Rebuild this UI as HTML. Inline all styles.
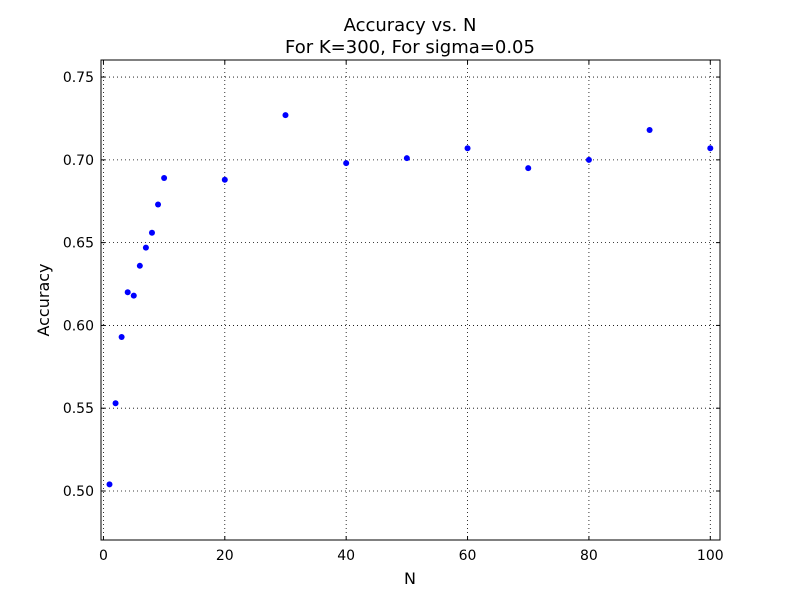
<!DOCTYPE html>
<html><head><meta charset="utf-8"><style>body{margin:0;background:#fff}svg{display:block;font-family:"DejaVu Sans","Liberation Sans",sans-serif}</style></head>
<body>
<svg id="chart" width="800" height="600" xmlns="http://www.w3.org/2000/svg">
<rect width="800" height="600" fill="#fff"/>
<text x="410" y="31" font-size="18" text-anchor="middle">Accuracy vs. N</text>
<text x="410" y="53" font-size="18" text-anchor="middle">For K=300, For sigma=0.05</text>
<g id="grid"></g>
<g id="ticks"></g>
<g id="points"></g>
<rect x="101" y="60" width="619" height="480" fill="none" stroke="#000" stroke-width="1"/>
<text x="410" y="584" font-size="16" text-anchor="middle">N</text>
<text x="49" y="300" font-size="16" text-anchor="middle" transform="rotate(-90 49 300)">Accuracy</text>
</svg>
<script>
const nValues=[1,2,3,4,5,6,7,8,9,10,20,30,40,50,60,70,80,90,100];
const accuracy=[0.504,0.553,0.593,0.620,0.618,0.636,0.647,0.656,0.673,0.689,0.688,0.727,0.698,0.701,0.707,0.695,0.700,0.718,0.707];
const xTicks=[0,20,40,60,80,100];
const yTicks=[0.50,0.55,0.60,0.65,0.70,0.75];
const NS='http://www.w3.org/2000/svg';
const L=101,R=720,T=60,B=540,xMin=-0.4,xMax=101.6,yMin=0.4704,yMax=0.7603;
const xs=v=>L+(v-xMin)/(xMax-xMin)*(R-L);
const ys=v=>B-(v-yMin)/(yMax-yMin)*(B-T);
function mk(tag,a,p){const e=document.createElementNS(NS,tag);for(const k in a)e.setAttribute(k,a[k]);p.appendChild(e);return e;}
const g=document.getElementById('grid'),tk=document.getElementById('ticks'),pts=document.getElementById('points');
xTicks.forEach(t=>{const x=xs(t);
 const l=mk('line',{x1:x,x2:x,y1:T,y2:B,stroke:'#000','stroke-dasharray':'1,3','stroke-width':0.8},g);
 
 mk('line',{x1:x,x2:x,y1:B,y2:B-4,stroke:'#000'},tk);mk('line',{x1:x,x2:x,y1:T,y2:T+4,stroke:'#000'},tk);
 const tx=mk('text',{x:x,y:B+20,'font-size':14,'text-anchor':'middle'},tk);tx.textContent=t;
 });
yTicks.forEach(t=>{const y=ys(t);
 const l=mk('line',{x1:L,x2:R,y1:y,y2:y,stroke:'#000','stroke-dasharray':'1,3','stroke-width':0.8},g);
 
 mk('line',{x1:L,x2:L+4,y1:y,y2:y,stroke:'#000'},tk);mk('line',{x1:R,x2:R-4,y1:y,y2:y,stroke:'#000'},tk);
 const tx=mk('text',{x:L-7,y:y+5,'font-size':14,'text-anchor':'end'},tk);tx.textContent=t.toFixed(2);
 });
nValues.forEach((n,i)=>{const c=mk('circle',{cx:xs(n),cy:ys(accuracy[i]),r:3,fill:'#0000ff'},pts);
 });
</script>
</body></html>
